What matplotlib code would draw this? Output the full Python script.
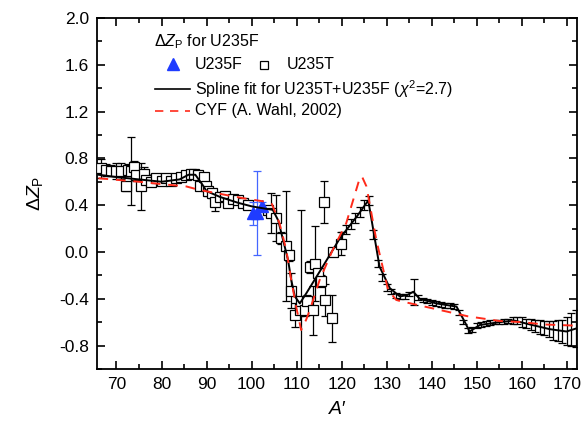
import matplotlib
matplotlib.use("Agg")
import matplotlib.pyplot as plt
from matplotlib.ticker import MultipleLocator

plt.rcParams['font.family'] = ['Liberation Sans', 'DejaVu Sans']
plt.rcParams['mathtext.fontset'] = 'custom'
plt.rcParams['mathtext.rm'] = 'Liberation Sans'
plt.rcParams['mathtext.it'] = 'Liberation Sans:italic'

# ---- data ----
# U235T measured points (squares)
t_A = [66.6, 67.7, 68.8, 69.9, 71.0, 72.1, 72.5, 73.3, 74.0, 74.4, 75.5, 76.0, 76.6, 77.7,
       78.8, 80.0, 81.0, 82.2, 83.3, 84.4, 85.5, 86.5, 87.3, 88.0, 88.6, 89.4, 89.9, 90.3,
       91.2, 91.8, 93.0, 94.1, 94.7, 95.8, 96.9, 98.1, 99.2, 103.6, 104.4, 105.5, 106.6,
       107.7, 108.4, 108.8, 109.6, 110.7, 111.0, 111.8, 112.2, 112.9, 113.6, 114.0, 114.7,
       115.5, 116.0, 116.2, 117.9, 118.1, 119.9]
t_v = [0.715, 0.70, 0.695, 0.69, 0.69, 0.56, 0.70, 0.69, 0.73, 0.66, 0.56, 0.67, 0.615, 0.60,
       0.63, 0.61, 0.63, 0.61, 0.63, 0.64, 0.66, 0.67, 0.67, 0.66, 0.56, 0.64, 0.56, 0.52,
       0.50, 0.43, 0.47, 0.48, 0.42, 0.45, 0.44, 0.42, 0.40, 0.36, 0.33, 0.29, 0.12,
       0.05, -0.03, -0.33, -0.54, -0.50, -0.42, -0.50, -0.42, -0.13, -0.50, -0.10, -0.18,
       -0.25, 0.425, -0.41, -0.567, 0.0, 0.07]
t_e = [0.08, 0.05, 0.05, 0.07, 0.07, 0.04, 0.05, 0.29, 0.05, 0.05, 0.20, 0.06, 0.05, 0.03,
       0.02, 0.02, 0.02, 0.02, 0.02, 0.02, 0.02, 0.02, 0.02, 0.02, 0.03, 0.03, 0.03, 0.04,
       0.04, 0.08, 0.03, 0.03, 0.04, 0.03, 0.03, 0.03, 0.03, 0.03, 0.17, 0.20, 0.05,
       0.47, 0.05, 0.15, 0.10, 0.05, 0.78, 0.05, 0.05, 0.05, 0.21, 0.32, 0.05,
       0.05, 0.18, 0.14, 0.20, 0.03, 0.10]

# U235T points at heavier masses (drawn as error bars on the fit)
h_A = list(range(120, 173))
h_v = [0.13, 0.19, 0.24, 0.29, 0.34, 0.40, 0.44, 0.15, -0.10, -0.22, -0.30, -0.34, -0.37,
       -0.38, -0.38, -0.36, -0.34, -0.39, -0.41, -0.42, -0.43, -0.44, -0.45, -0.455, -0.46,
       -0.465, -0.52, -0.60, -0.67, -0.66, -0.63, -0.62, -0.61, -0.605, -0.60, -0.60, -0.595,
       -0.59, -0.585, -0.59, -0.60, -0.61, -0.62, -0.63, -0.64, -0.65, -0.66, -0.67, -0.675,
       -0.68, -0.675, -0.665, -0.655]
h_e = [0.04, 0.04, 0.04, 0.04, 0.04, 0.04, 0.04, 0.04, 0.03, 0.03, 0.03, 0.02, 0.02,
       0.02, 0.02, 0.02, 0.11, 0.02, 0.02, 0.02, 0.02, 0.02, 0.02, 0.02, 0.02,
       0.02, 0.02, 0.02, 0.02, 0.02, 0.02, 0.02, 0.02, 0.02, 0.02, 0.02, 0.02,
       0.02, 0.03, 0.03, 0.04, 0.04, 0.05, 0.05, 0.06, 0.06, 0.07, 0.08, 0.09,
       0.10, 0.12, 0.14, 0.16]

# U235F points (triangles)
f_A = [100.3, 101.2, 102.3]
f_v = [0.33, 0.33, 0.39]
f_e = [0.10, 0.36, 0.04]

# Spline fit
s_A = [66, 70, 75, 80, 84, 86, 87.5, 89, 90, 93, 97, 100, 103, 104.7, 105.9, 107, 108.1,
       108.8, 109.6, 110.7, 112.2, 115.8, 119.6, 123.3, 125.9, 128.4, 130.7, 132.9, 134.5,
       135.9, 137.3, 141, 145.5, 147.3, 148.4, 150.7, 155.1, 158.4, 161.8, 166.2, 169.9, 172]
s_v = [0.66, 0.64, 0.62, 0.60, 0.62, 0.66, 0.66, 0.58, 0.52, 0.47, 0.42, 0.39, 0.37, 0.36,
       0.27, 0.10, -0.07, -0.24, -0.38, -0.44, -0.35, -0.125, 0.117, 0.30, 0.44, -0.125,
       -0.31, -0.38, -0.37, -0.34, -0.40, -0.44, -0.467, -0.596, -0.68, -0.624, -0.60,
       -0.587, -0.62, -0.66, -0.68, -0.655]

# CYF (A. Wahl, 2002)
c_A = [66, 75, 80, 85.5, 88.4, 98, 103, 104.5, 106.2, 107.7, 108.8, 109.9, 111, 112.1,
       112.9, 115.1, 118, 121, 124, 124.5, 125.5, 127.7, 130.3, 132.1, 133, 148, 155, 160,
       165, 172]
c_v = [0.63, 0.60, 0.58, 0.56, 0.53, 0.46, 0.43, 0.41, 0.245, 0.017, -0.24, -0.47, -0.667,
       -0.58, -0.50, -0.24, 0.017, 0.245, 0.63, 0.645, 0.56, 0.10, -0.325, -0.41, -0.42,
       -0.55, -0.59, -0.60, -0.62, -0.63]

# ---- figure ----
fig = plt.figure(figsize=(5.85, 4.28), dpi=100)
ax = fig.add_axes([0.166, 0.138, 0.820, 0.820])

blue = '#1f3cff'
ax.errorbar(h_A, h_v, yerr=h_e, fmt='none', ecolor='black', elinewidth=0.9,
            capsize=3, capthick=0.9, zorder=2)
ax.errorbar(t_A, t_v, yerr=t_e, fmt='s', ms=7, mfc='white', mec='black', mew=0.9,
            ecolor='black', elinewidth=0.9, capsize=3, capthick=0.9, zorder=3)
ax.errorbar(f_A, f_v, yerr=f_e, fmt='^', ms=8.5, mfc=blue, mec=blue,
            ecolor='#4466ff', elinewidth=0.9, capsize=3, capthick=0.9, zorder=4)
ax.plot(s_A, s_v, color='black', lw=1.4, zorder=5)
ax.plot(c_A, c_v, color='#ff2a1a', lw=1.4, dashes=(5, 4), zorder=6)

ax.set_xlim(65.7, 172.2)
ax.set_ylim(-1.0, 2.0)
ax.xaxis.set_major_locator(MultipleLocator(10))
ax.xaxis.set_minor_locator(MultipleLocator(5))
ax.yaxis.set_minor_locator(MultipleLocator(0.2))
ax.set_yticks([-0.8, -0.4, 0.0, 0.4, 0.8, 1.2, 1.6, 2.0])
ax.set_yticklabels(['-0.8', '-0.4', '0.0', '0.4', '0.8', '1.2', '1.6', '2.0'])
ax.tick_params(which='both', direction='in', top=True, right=True, width=1.2,
               labelsize=12.5, pad=6)
ax.tick_params(which='major', length=6)
ax.tick_params(which='minor', length=3.5)
for sp in ax.spines.values():
    sp.set_linewidth(1.3)

ax.set_xlabel("A\u2032", fontsize=14, fontstyle='italic', labelpad=6)
ax.set_ylabel(r"$\Delta Z_\mathrm{P}$", fontsize=14, labelpad=10)

# legend block (Origin style)
tr = ax.transAxes
def fx(px):
    return (px - 97.3) / (577 - 97.3)
def fy(py):
    return (369 - py) / (369 - 18)
ax.text(fx(154), fy(42), r"$\Delta Z_\mathrm{P}$ for U235F", transform=tr, fontsize=11.5,
        va='center', ha='left')
ax.plot([fx(173)], [fy(64)], marker='^', ms=8, color=blue, transform=tr, clip_on=False)
ax.text(fx(195), fy(65), "U235F", transform=tr, fontsize=11.5, va='center', ha='left')
ax.plot([fx(264)], [fy(65)], marker='s', ms=5.5, mfc='white', mec='black', mew=0.9,
        transform=tr, clip_on=False)
ax.text(fx(287), fy(65), "U235T", transform=tr, fontsize=11.5, va='center', ha='left')
ax.plot([fx(155), fx(190)], [fy(89), fy(89)], color='black', lw=1.2, transform=tr)
ax.text(fx(195), fy(89), r"Spline fit for U235T+U235F ($\chi^2$=2.7)", transform=tr,
        fontsize=11.5, va='center', ha='left')
ax.plot([fx(155), fx(190)], [fy(111), fy(111)], color='#ff2a1a', lw=1.2, dashes=(5, 4),
        transform=tr)
ax.text(fx(195), fy(111), "CYF (A. Wahl, 2002)", transform=tr, fontsize=11.5,
        va='center', ha='left')

fig.savefig('out.png', dpi=100)
